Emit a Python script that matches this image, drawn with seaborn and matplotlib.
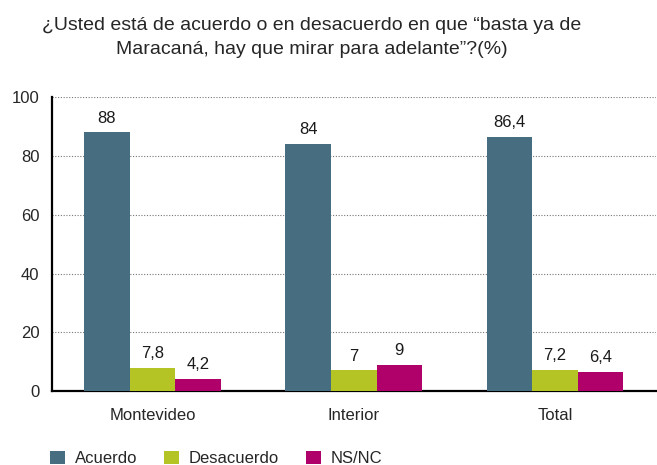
import pandas as pd
import matplotlib.pyplot as plt
import seaborn as sns
from matplotlib.patches import Patch

regions = ["Montevideo", "Interior", "Total"]
acuerdo = [88, 84, 86.4]
desacuerdo = [7.8, 7, 7.2]
nsnc = [4.2, 9, 6.4]
series = ["Acuerdo", "Desacuerdo", "NS/NC"]
colors = ["#476e80", "#b5c425", "#b0006a"]

df = pd.DataFrame({
    "region": regions * 3,
    "serie": [s for s in series for _ in regions],
    "valor": acuerdo + desacuerdo + nsnc,
})

sns.set_style("white")
plt.rcParams["font.family"] = ["Liberation Sans Narrow", "Liberation Sans", "DejaVu Sans"]

fig = plt.figure(figsize=(6.57, 4.65), dpi=100)
ax = fig.add_axes([0.079, 0.159, 0.919, 0.632])

sns.barplot(data=df, x="region", y="valor", hue="serie", palette=colors,
            width=0.68, saturation=1, linewidth=0, ax=ax, legend=False, zorder=3)

for cont in ax.containers:
    labels = [f"{v:g}".replace(".", ",") for v in cont.datavalues]
    ax.bar_label(cont, labels=labels, padding=5, fontsize=12, color="#1a1a1a")

ax.set_ylim(0, 100)
ax.set_xlim(-0.5, 2.5)
ax.set_yticks([0, 20, 40, 60, 80, 100])
ax.set_xticks([-0.5, 0.5, 1.5, 2.5], minor=False)
ax.set_xticklabels([])
ax.set_xticks([0, 1, 2], minor=True)
ax.set_xticklabels(regions, minor=True, fontsize=12)
ax.tick_params(axis="x", which="minor", length=0, pad=12)
ax.tick_params(axis="x", which="major", length=5, width=1.2, direction="out")
ax.tick_params(axis="y", length=5, width=1.2, direction="out", labelsize=12, pad=4)
ax.set_xlabel("")
ax.set_ylabel("")

ax.grid(axis="y", linestyle=(0, (1, 1.5)), color="#777777", linewidth=0.8, zorder=0)
ax.set_axisbelow(True)
for side in ["top", "right"]:
    ax.spines[side].set_visible(False)
for side in ["left", "bottom"]:
    ax.spines[side].set_color("black")
    ax.spines[side].set_linewidth(1.6)

fig.suptitle("¿Usted está de acuerdo o en desacuerdo en que “basta ya de\nMaracaná, hay que mirar para adelante”?(%)",
             fontsize=14, x=0.474, y=0.963, linespacing=1.55)

handles = [Patch(facecolor=c, edgecolor="none") for c in colors]
fig.legend(handles, series, loc="lower left", bbox_to_anchor=(0.053, -0.035), ncol=3,
           frameon=False, fontsize=12, handlelength=0.9, handleheight=0.9,
           handletextpad=0.6, columnspacing=1.6)

fig.savefig("out.png", dpi=100)
